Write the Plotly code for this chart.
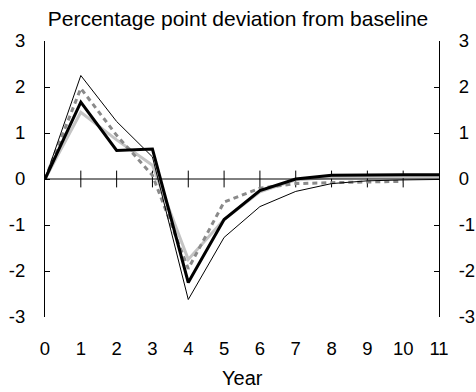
import plotly.graph_objects as go

# Years after the shock
years = list(range(0, 12))
years_dashed = list(range(0, 11))

# Percentage point deviation from baseline for each scenario
thin_black = [0, 2.25, 1.25, 0.48, -2.62, -1.27, -0.6, -0.27, -0.1, -0.04, -0.02, -0.01]
thick_black = [0, 1.67, 0.62, 0.65, -2.25, -0.88, -0.25, 0.0, 0.08, 0.09, 0.09, 0.09]
light_grey = [0, 1.45, 0.85, 0.3, -1.75, -0.88, -0.28, -0.02, 0.04, 0.05, 0.05, 0.04]
grey_dashed = [0, 1.97, 0.95, 0.08, -1.95, -0.5, -0.2, -0.1, -0.08, -0.06, -0.05]

x_ticks = list(range(0, 12))
y_ticks = [-3, -2, -1, 0, 1, 2, 3]
y_tick_labels = ["-3", "-2", "-1", "0", "1", "2", "3"]

FONT = "Liberation Sans, Arial, sans-serif"

fig = go.Figure()

# Tick marks crossing the zero line
fig.add_trace(go.Scatter(
    x=x_ticks[1:-1], y=[0] * (len(x_ticks) - 2), mode="markers",
    marker=dict(symbol="line-ns", size=12, line=dict(color="black", width=1)),
    hoverinfo="skip", showlegend=False,
))

fig.add_trace(go.Scatter(x=years, y=light_grey, mode="lines",
                         line=dict(color="#c4c4c4", width=3), showlegend=False))
fig.add_trace(go.Scatter(x=years_dashed, y=grey_dashed, mode="lines",
                         line=dict(color="#8a8a8a", width=3, dash="5px,4px"),
                         showlegend=False))
fig.add_trace(go.Scatter(x=years, y=thin_black, mode="lines",
                         line=dict(color="black", width=1), showlegend=False))
fig.add_trace(go.Scatter(x=years, y=thick_black, mode="lines",
                         line=dict(color="black", width=3), showlegend=False))
# Carries the right-hand axis
fig.add_trace(go.Scatter(x=[0], y=[0], yaxis="y2", mode="markers",
                         marker=dict(opacity=0), hoverinfo="skip", showlegend=False))

axis_y = dict(
    range=[-3, 3], tickvals=y_ticks, ticktext=y_tick_labels,
    ticks="inside", ticklen=5,
    tickcolor="black", showline=True, linecolor="black", linewidth=1,
    showgrid=False, zeroline=False, ticklabelstandoff=15, automargin=False,
    tickfont=dict(family=FONT, size=18.5, color="black"),
)

fig.update_layout(
    width=476, height=392,
    margin=dict(l=45, r=37, t=41, b=75),
    paper_bgcolor="white", plot_bgcolor="white",
    title=dict(text="Percentage point deviation from baseline",
               x=0.5, xanchor="center", y=1 - 19 / 392, yanchor="middle",
               font=dict(family=FONT, size=21, color="black")),
    xaxis=dict(
        range=[0, 11], tickvals=x_ticks, ticks="", showline=False,
        showgrid=False, zeroline=False, ticklabelstandoff=18, automargin=False,
        tickfont=dict(family=FONT, size=18.5, color="black"),
    ),
    yaxis=dict(axis_y, side="left"),
    yaxis2=dict(axis_y, side="right", overlaying="y"),
    shapes=[dict(type="line", xref="x", yref="y", x0=0, x1=11, y0=0, y1=0,
                 line=dict(color="black", width=1), layer="above")],
    annotations=[dict(text="Year", xref="x", x=5.5, yref="paper",
                      y=-61 / 276, yanchor="middle", showarrow=False,
                      font=dict(family=FONT, size=20, color="black"))],
)

fig.write_html("out.html")
